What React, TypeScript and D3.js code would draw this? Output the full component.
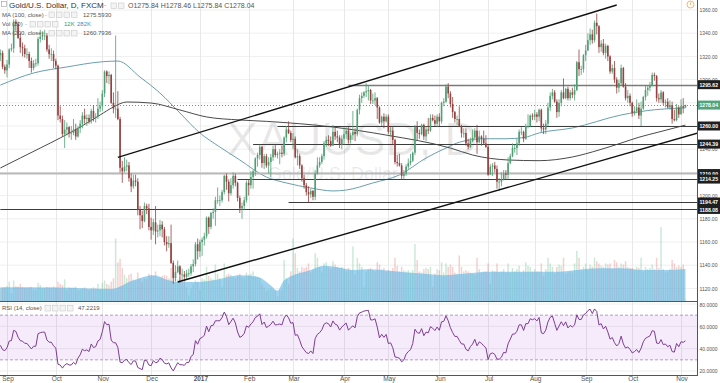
import React from 'react';
import * as d3 from 'd3';

type Bar = [number, number, number, number, number]; // open, high, low, close, volume (K)

const aug16: Bar[] = [
  [1321,1326,1316,1323,110],[1323,1325,1309,1311,115],[1311,1313,1305,1308,120],
];
const sep16: Bar[] = [
  [1308,1317,1302,1313,130],[1313,1327,1310,1326,170],[1326,1331,1324,1327,70],[1327,1352,1323,1350,180],
  [1350,1352,1342,1348,130],[1348,1350,1335,1336,125],[1336,1340,1323,1328,150],[1328,1332,1320,1327,120],
  [1327,1330,1319,1322,115],[1322,1327,1318,1322,110],[1322,1324,1310,1316,120],[1316,1319,1306,1310,125],
  [1310,1317,1308,1314,100],[1314,1318,1311,1314,100],[1314,1337,1312,1335,160],[1335,1343,1332,1337,140],
  [1337,1341,1334,1338,110],[1338,1343,1334,1338,115],[1338,1340,1324,1326,125],[1326,1330,1318,1322,120],
  [1322,1327,1316,1322,120],[1322,1325,1310,1316,130],
];
const oct16: Bar[] = [
  [1316,1318,1309,1312,120],[1312,1313,1265,1269,170],[1269,1277,1263,1266,150],[1266,1269,1251,1253,140],
  [1253,1265,1241,1257,190],[1257,1263,1252,1259,100],[1259,1260,1250,1254,120],[1254,1260,1248,1254,115],
  [1254,1266,1252,1257,120],[1257,1262,1248,1251,125],[1251,1260,1250,1258,95],[1258,1265,1254,1262,100],
  [1262,1272,1258,1269,115],[1269,1275,1262,1266,120],[1266,1270,1260,1267,105],[1267,1270,1262,1264,95],
  [1264,1275,1262,1273,110],[1273,1278,1264,1267,120],[1267,1271,1263,1268,110],[1268,1284,1266,1275,150],
  [1275,1281,1272,1277,105],
];
const nov16: Bar[] = [
  [1277,1291,1273,1288,160],[1288,1308,1285,1307,180],[1307,1308,1297,1303,150],[1303,1307,1296,1304,140],
  [1304,1305,1279,1280,170],[1280,1289,1271,1275,200],[1275,1338,1267,1275,550],[1275,1290,1265,1266,340],
  [1266,1268,1220,1224,370],[1224,1230,1211,1221,290],[1221,1233,1220,1225,230],[1225,1231,1221,1226,200],
  [1226,1229,1212,1215,230],[1215,1219,1203,1208,240],[1208,1218,1206,1213,190],[1213,1218,1208,1212,180],
  [1212,1215,1183,1188,250],[1188,1191,1171,1183,200],[1183,1187,1172,1178,170],[1178,1194,1177,1191,200],
  [1191,1193,1184,1189,190],[1189,1193,1170,1173,240],
];
const dec16: Bar[] = [
  [1173,1181,1162,1170,230],[1170,1180,1166,1177,220],[1177,1191,1158,1169,260],[1169,1175,1164,1170,200],
  [1170,1179,1165,1175,210],[1175,1178,1164,1171,220],[1171,1173,1157,1160,230],[1160,1165,1152,1158,220],
  [1158,1165,1155,1159,200],[1159,1175,1141,1142,290],[1142,1144,1124,1129,300],[1129,1140,1126,1134,220],
  [1134,1144,1133,1139,190],[1139,1140,1125,1132,210],[1132,1137,1127,1132,180],[1132,1135,1126,1130,170],
  [1130,1136,1128,1133,120],[1133,1137,1130,1133,50],[1133,1141,1131,1139,110],[1139,1145,1134,1141,150],
  [1141,1160,1139,1158,180],[1158,1163,1145,1152,170],
];
const jan17: Bar[] = [
  [1152,1162,1147,1160,100],[1160,1164,1148,1162,200],[1162,1168,1157,1165,190],[1165,1182,1163,1181,300],
  [1181,1182,1167,1173,220],[1173,1186,1171,1185,200],[1185,1189,1180,1186,190],[1186,1199,1174,1196,320],
  [1196,1207,1193,1196,240],[1196,1200,1191,1196,200],[1196,1205,1194,1203,120],[1203,1218,1201,1217,330],
  [1217,1219,1205,1212,230],[1212,1214,1195,1202,240],[1202,1215,1200,1209,230],[1209,1220,1206,1217,210],
  [1217,1219,1208,1211,200],[1211,1212,1195,1198,230],[1198,1200,1185,1189,240],[1189,1194,1180,1191,210],
  [1191,1199,1188,1196,200],[1196,1213,1194,1211,250],
];
const feb17: Bar[] = [
  [1211,1214,1200,1209,230],[1209,1221,1206,1216,240],[1216,1222,1206,1221,260],[1221,1233,1217,1232,220],
  [1232,1237,1225,1235,210],[1235,1244,1231,1242,200],[1242,1243,1224,1228,150],[1228,1236,1223,1234,120],
  [1234,1236,1224,1226,90],[1226,1233,1219,1229,100],[1229,1236,1216,1233,110],[1233,1243,1230,1240,100],
  [1240,1244,1233,1235,90],[1235,1238,1232,1236,40],[1236,1240,1227,1237,90],[1237,1243,1233,1236,100],
  [1236,1251,1234,1250,360],[1250,1260,1246,1257,200],[1257,1264,1253,1254,150],[1254,1256,1246,1248,260],
];
const mar17: Bar[] = [
  [1248,1254,1240,1249,550],[1249,1251,1232,1233,420],[1233,1240,1226,1234,290],[1234,1236,1223,1226,260],
  [1226,1227,1212,1215,300],[1215,1218,1206,1209,290],[1209,1211,1200,1203,300],[1203,1208,1194,1201,330],
  [1201,1206,1198,1204,250],[1204,1205,1196,1199,270],[1199,1222,1196,1219,420],[1219,1233,1218,1226,380],
  [1226,1233,1224,1229,300],[1229,1236,1227,1234,250],[1234,1247,1231,1245,330],[1245,1251,1242,1248,340],
  [1248,1252,1243,1247,300],[1247,1251,1242,1243,280],[1243,1261,1243,1255,350],[1255,1259,1248,1251,320],
  [1251,1256,1246,1250,300],[1250,1252,1241,1244,290],[1244,1252,1240,1249,300],
];
const apr17: Bar[] = [
  [1249,1259,1244,1253,280],[1253,1259,1249,1256,260],[1256,1259,1245,1248,290],[1248,1254,1245,1252,270],
  [1252,1273,1248,1255,480],[1255,1258,1247,1253,230],[1253,1275,1251,1274,380],[1274,1287,1270,1284,330],
  [1284,1289,1280,1286,300],[1286,1290,1284,1289,120],[1289,1297,1285,1290,260],[1290,1295,1282,1291,280],
  [1291,1292,1279,1282,290],[1282,1288,1279,1282,270],[1282,1289,1278,1284,260],[1284,1285,1266,1276,340],
  [1276,1277,1262,1263,320],[1263,1269,1260,1268,280],[1268,1271,1258,1264,290],[1264,1270,1263,1268,260],
];
const may17: Bar[] = [
  [1268,1270,1253,1255,270],[1255,1259,1251,1256,260],[1256,1259,1244,1248,290],[1248,1249,1227,1229,380],
  [1229,1235,1225,1228,310],[1228,1236,1225,1226,260],[1226,1228,1214,1217,300],[1217,1222,1214,1219,270],
  [1219,1227,1217,1225,260],[1225,1232,1223,1228,270],[1228,1236,1226,1230,250],[1230,1238,1229,1237,270],
  [1237,1261,1235,1259,500],[1259,1264,1248,1254,360],[1254,1257,1249,1253,260],[1253,1262,1252,1261,250],
  [1261,1262,1248,1251,280],[1251,1260,1247,1257,290],[1257,1267,1253,1256,280],[1256,1270,1255,1267,300],
  [1267,1270,1264,1265,120],[1265,1269,1260,1262,240],[1262,1270,1259,1268,280],
];
const jun17: Bar[] = [
  [1268,1271,1260,1264,270],[1264,1281,1262,1280,340],[1280,1284,1277,1281,250],[1281,1296,1280,1294,330],
  [1294,1297,1284,1288,300],[1288,1290,1276,1279,320],[1279,1285,1267,1272,300],[1272,1273,1263,1266,250],
  [1266,1269,1261,1266,240],[1266,1277,1259,1260,400],[1260,1261,1250,1254,300],[1254,1258,1250,1254,260],
  [1254,1258,1243,1245,270],[1245,1249,1240,1242,260],[1242,1250,1241,1247,250],[1247,1257,1246,1250,240],
  [1250,1258,1249,1256,230],[1256,1261,1236,1246,380],[1246,1256,1245,1251,280],[1251,1252,1243,1249,250],
  [1249,1256,1244,1245,260],[1245,1252,1241,1242,260],
];
const jul17: Bar[] = [
  [1242,1244,1217,1218,330],[1218,1227,1218,1225,150],[1225,1228,1217,1226,270],[1226,1229,1220,1223,260],
  [1223,1226,1206,1212,330],[1212,1215,1204,1212,250],[1212,1220,1208,1214,260],[1214,1222,1213,1219,280],
  [1219,1222,1214,1218,250],[1218,1233,1214,1228,330],[1228,1236,1227,1234,250],[1234,1245,1233,1241,290],
  [1241,1244,1237,1241,260],[1241,1249,1235,1245,280],[1245,1257,1243,1255,310],[1255,1259,1252,1255,250],
  [1255,1256,1246,1249,270],[1249,1262,1248,1260,340],[1260,1270,1258,1260,310],[1260,1270,1259,1269,300],
  [1269,1271,1265,1268,260],
];
const aug17: Bar[] = [
  [1268,1274,1265,1270,280],[1270,1272,1263,1268,260],[1268,1275,1264,1274,260],[1274,1275,1255,1258,330],
  [1258,1262,1253,1257,220],[1257,1265,1253,1262,280],[1262,1280,1260,1276,380],[1276,1289,1273,1286,330],
  [1286,1292,1283,1289,300],[1289,1291,1280,1281,240],[1281,1283,1267,1272,300],[1272,1283,1268,1280,320],
  [1280,1291,1277,1289,310],[1289,1301,1283,1284,380],[1284,1293,1283,1292,240],[1292,1294,1282,1284,250],
  [1284,1291,1282,1289,260],[1289,1293,1284,1287,250],[1287,1296,1282,1291,330],[1291,1316,1290,1315,440],
  [1315,1326,1303,1309,380],[1309,1312,1304,1309,280],[1309,1322,1306,1321,300],
];
const sep17: Bar[] = [
  [1321,1330,1316,1325,330],[1325,1340,1325,1334,270],[1334,1344,1330,1339,320],[1339,1343,1331,1334,300],
  [1334,1351,1332,1349,380],[1349,1357,1339,1346,350],[1346,1347,1323,1328,330],[1328,1334,1324,1331,310],
  [1331,1335,1321,1323,300],[1323,1331,1318,1329,330],[1329,1330,1316,1320,320],[1320,1321,1305,1307,330],
  [1307,1313,1305,1310,280],[1310,1316,1297,1300,360],[1300,1302,1288,1293,340],[1293,1300,1289,1297,300],
  [1297,1313,1295,1310,330],[1310,1311,1293,1294,320],[1294,1297,1282,1284,350],[1284,1291,1280,1286,300],
  [1286,1288,1277,1280,290],
];
const oct17: Bar[] = [
  [1280,1281,1268,1271,290],[1271,1277,1269,1273,270],[1273,1283,1271,1276,300],[1276,1280,1266,1269,290],
  [1269,1281,1260,1275,380],[1275,1286,1274,1285,250],[1285,1295,1282,1291,300],[1291,1295,1286,1293,280],
  [1293,1298,1290,1295,290],[1295,1306,1294,1304,320],[1304,1306,1299,1303,280],[1303,1304,1281,1284,380],
  [1284,1288,1280,1283,290],[1283,1291,1280,1289,650],[1289,1290,1278,1280,280],[1280,1283,1276,1281,250],
  [1281,1284,1275,1276,260],[1276,1282,1274,1278,280],[1278,1281,1262,1266,360],[1266,1274,1264,1265,330],
  [1265,1279,1264,1276,300],[1276,1277,1267,1270,310],
];
const nov17: Bar[] = [
  [1270,1283,1270,1277,300],[1277,1284,1271,1276,320],[1275.84,1278.46,1275.84,1278.04,12],
];

const monthBars: Bar[][] = [aug16, sep16, oct16, nov16, dec16, jan17, feb17, mar17, apr17, may17, jun17, jul17, aug17, sep17, oct17, nov17];
const monthLabels: string[] = ['', 'Sep', 'Oct', 'Nov', 'Dec', '2017', 'Feb', 'Mar', 'Apr', 'May', 'Jun', 'Jul', 'Aug', 'Sep', 'Oct', 'Nov'];

// moving averages: [bar index, value]
const ma100Pts: [number, number][] = [
  [0,1295.3],[15,1305.7],[30,1310.9],[45,1315.2],[53,1316],[63,1302.2],[72,1288.4],[81,1271.2],[90,1254],
  [99,1241.9],[108,1230.7],[120,1216],[129,1210.9],[140,1206.6],[150,1204],[156,1204.8],[168,1210.9],
  [180,1217.8],[192,1232.4],[201,1241],[207,1246],[218,1249],[228,1249],[236,1250],[243,1254],[258,1258.3],
  [280,1269.5],[295,1274],[309,1275.59],
];
const ma200Pts: [number, number][] = [
  [0,1223.8],[9,1232.4],[18,1241],[27,1249.7],[36,1259.1],[45,1269.5],[51,1276.4],[57,1280.7],[68,1279.8],
  [81,1273.8],[93,1267.8],[108,1265.2],[120,1264],[150,1259.1],[174,1252.2],[203,1241],[213,1235],
  [229,1230.7],[243,1230.1],[258,1233.3],[270,1239.3],[280,1245.3],[288,1250.3],[297,1254.8],[309,1260.79],
];
const volMaPts: [number, number][] = [
  [0,121],[25,118],[50,106],[60,182],[69,227],[76,182],[80,166],[88,166],[96,182],[108,227],[116,212],
  [122,136],[125,91],[128,182],[140,273],[146,309],[152,297],[160,273],[166,279],[172,273],[180,258],
  [190,242],[200,227],[210,242],[220,258],[240,258],[252,258],[260,273],[270,288],[280,288],[290,273],
  [300,273],[309,282],
];
const rsiSeed = { avgGain: 4.0, avgLoss: 5.3 };

const priceTicks = [1120, 1140, 1160, 1180, 1200, 1220, 1240, 1260, 1280, 1300, 1320, 1340, 1360];
const rsiTicks = [20, 40, 60, 80];

// drawn levels: [price, start bar index]
const levelLines: [number, number][] = [
  [1295.62, 157], [1260.0, 125], [1244.39, 114], [1214.25, 107], [1194.47, 130], [1188.08, 0],
];
const supportBand = 1219.0;
const lastPrice = 1278.04;
// trend lines: [[i1, p1], [i2, p2]]
const upperTrend: [number, number][] = [[53, 1233.0], [278, 1364.3]];
const lowerTrend: [number, number][] = [[80, 1125.5], [314.3, 1253.8]];

const FONT = '"Liberation Sans", Arial, sans-serif';
const UP = '#4f9e74';
const DOWN = '#96403f';

export default function App() {
  const bars = monthBars.flat();
  const starts: number[] = [];
  let acc = 0;
  monthBars.forEach((m) => { starts.push(acc); acc += m.length; });

  const PR = 697; // plot right edge
  const x = d3.scaleLinear().domain([0, 307]).range([0.35, 681]);
  const y = d3.scaleLinear().domain([1120, 1360]).range([288.4, 10]);
  const yv = d3.scaleLinear().domain([0, 650]).range([301, 227]);
  const yr = d3.scaleLinear().domain([20, 80]).range([371, 304]);

  // RSI (14) with Wilder smoothing
  const rsi: number[] = [];
  let ag = rsiSeed.avgGain, al = rsiSeed.avgLoss;
  rsi.push(100 - 100 / (1 + ag / al));
  for (let i = 1; i < bars.length; i++) {
    const ch = bars[i][3] - bars[i - 1][3];
    ag = (ag * 13 + Math.max(ch, 0)) / 14;
    al = (al * 13 + Math.max(-ch, 0)) / 14;
    rsi.push(100 - 100 / (1 + ag / al));
  }

  const maLine = d3.line<[number, number]>().x((d) => x(d[0])).y((d) => y(d[1])).curve(d3.curveMonotoneX);
  const volArea = d3.area<[number, number]>().x((d) => x(d[0])).y0(301).y1((d) => yv(d[1])).curve(d3.curveMonotoneX);
  const rsiLine = d3.line<number>().x((_, i) => x(i)).y((d) => yr(d));

  const axisLabel = (p: number) => p.toFixed(2);

  const boxes: { p: number; bg: string }[] = [
    { p: 1295.62, bg: '#1f1f1f' }, { p: lastPrice, bg: '#55a37a' }, { p: 1260.0, bg: '#1f1f1f' },
    { p: 1244.39, bg: '#1f1f1f' }, { p: 1219.0, bg: '#1f1f1f' }, { p: 1214.25, bg: '#1f1f1f' },
    { p: 1194.47, bg: '#1f1f1f' }, { p: 1188.08, bg: '#1f1f1f' },
  ];
  // tick labels hidden behind a label box (as the reference does)
  const visibleTicks = priceTicks.filter((p) => boxes.every((b) => Math.abs(y(b.p) - y(p)) >= 4.5));

  const icons = (x0: number, yy: number, count: number) =>
    Array.from({ length: count }, (_, k) => (
      <rect key={k} x={x0 + k * 7.5} y={yy - 5} width={5.5} height={5.5} fill="#f4f4f4" stroke="#c8c8c8" strokeWidth={0.6} />
    ));

  return (
    <svg width={720} height={383} style={{ position: 'absolute', left: 0, top: 0, fontFamily: FONT }}>
      <defs>
        <clipPath id="pricePane"><rect x={0} y={0} width={PR} height={301} /></clipPath>
        <clipPath id="rsiPane"><rect x={0} y={302} width={PR} height={73} /></clipPath>
      </defs>
      <rect x={0} y={0} width={720} height={383} fill="#fff" />

      {/* grid */}
      {priceTicks.map((p) => (
        <line key={'hg' + p} x1={0} x2={PR} y1={y(p)} y2={y(p)} stroke="#efefef" strokeWidth={1} />
      ))}
      {rsiTicks.map((r) => (
        <line key={'rg' + r} x1={0} x2={PR} y1={yr(r)} y2={yr(r)} stroke="#efefef" strokeWidth={1} />
      ))}
      {starts.slice(1).map((s, k) => (
        <line key={'vg' + k} x1={Math.round(x(s)) + 0.5} x2={Math.round(x(s)) + 0.5} y1={0} y2={375} stroke="#e8e8e8" strokeWidth={1} />
      ))}

      {/* watermark */}
      <text x={227} y={155} fontSize={46} fill="#000" fillOpacity={0.09} fontFamily={FONT}>XAUUSD, D</text>
      <text x={268} y={180} fontSize={18} fill="#000" fillOpacity={0.09} fontFamily={FONT}>Gold/U.S. Dollar</text>

      <g clipPath="url(#pricePane)">
        {/* volume */}
        {bars.map((b, i) => (
          <rect key={'v' + i} x={x(i) - 0.75} width={1.5} y={yv(b[4])} height={301 - yv(b[4])}
            fill={b[3] >= b[0] ? '#6cc08f' : '#e07a7a'} fillOpacity={0.35} />
        ))}
        <path d={volArea(volMaPts) || ''} fill="#5fb4e4" fillOpacity={0.6} />

        {/* moving averages */}
        <path d={maLine(ma100Pts) || ''} fill="none" stroke="#6a9fae" strokeWidth={1} />
        <path d={maLine(ma200Pts) || ''} fill="none" stroke="#4a4a4a" strokeWidth={1} />

        {/* levels */}
        <line x1={0} x2={PR} y1={y(supportBand)} y2={y(supportBand)} stroke="#b9b9b9" strokeWidth={2} />
        {levelLines.map(([p, s], k) => (
          <line key={'lv' + k} x1={x(s)} x2={PR} y1={Math.round(y(p)) + 0.5} y2={Math.round(y(p)) + 0.5}
            stroke={p === 1295.62 ? '#7a7a7a' : '#3c3c3c'} strokeWidth={p === 1295.62 ? 1.5 : 1} />
        ))}
        <line x1={0} x2={PR} y1={Math.round(y(lastPrice)) + 0.5} y2={Math.round(y(lastPrice)) + 0.5}
          stroke="#8a8a8a" strokeWidth={1} strokeDasharray="1,2" />

        {/* candles */}
        {bars.map((b, i) => {
          const [o, h, l, c] = b;
          const up = c >= o;
          const col = up ? UP : DOWN;
          const top = y(Math.max(o, c));
          const bh = Math.max(0.8, Math.abs(y(o) - y(c)));
          return (
            <g key={'c' + i}>
              <line x1={x(i)} x2={x(i)} y1={y(h)} y2={y(l)} stroke={col} strokeWidth={0.8} />
              <rect x={x(i) - 0.8} width={1.6} y={top} height={bh} fill={col} />
            </g>
          );
        })}

        {/* trend lines */}
        <line x1={x(upperTrend[0][0])} y1={y(upperTrend[0][1])} x2={x(upperTrend[1][0])} y2={y(upperTrend[1][1])} stroke="#111" strokeWidth={1.4} />
        <line x1={x(lowerTrend[0][0])} y1={y(lowerTrend[0][1])} x2={x(lowerTrend[1][0])} y2={y(lowerTrend[1][1])} stroke="#111" strokeWidth={1.4} />
      </g>

      {/* RSI pane */}
      <g clipPath="url(#rsiPane)">
        <rect x={0} width={PR} y={yr(70)} height={yr(30) - yr(70)} fill="#9b3fd6" fillOpacity={0.1} />
        <line x1={0} x2={PR} y1={yr(70)} y2={yr(70)} stroke="#b39ac6" strokeWidth={1} strokeDasharray="3,2" />
        <line x1={0} x2={PR} y1={yr(30)} y2={yr(30)} stroke="#b39ac6" strokeWidth={1} strokeDasharray="3,2" />
        <path d={rsiLine(rsi) || ''} fill="none" stroke="#7e3d92" strokeWidth={1} />
      </g>

      {/* pane frames */}
      <line x1={0} x2={PR} y1={301.5} y2={301.5} stroke="#555" strokeWidth={1} />
      <line x1={0} x2={PR} y1={375.5} y2={375.5} stroke="#555" strokeWidth={1} />
      <line x1={PR + 0.5} x2={PR + 0.5} y1={0} y2={376} stroke="#555" strokeWidth={1} />

      {/* right price axis */}
      {visibleTicks.map((p) => (
        <text key={'pt' + p} x={699.5} y={y(p) + 2.2} fontSize={6} fill="#555" textLength={18} lengthAdjust="spacingAndGlyphs">{axisLabel(p)}</text>
      ))}
      {boxes.map((bx, k) => (
        <g key={'bx' + k}>
          <rect x={698} y={y(bx.p) - 4.5} width={22} height={9} fill={bx.bg} />
          <text x={699.5} y={y(bx.p) + 2.2} fontSize={6} fill="#fff" fontWeight="bold" textLength={18.5} lengthAdjust="spacingAndGlyphs">{axisLabel(bx.p)}</text>
        </g>
      ))}
      {rsiTicks.map((r) => (
        <text key={'rt' + r} x={699.5} y={Math.max(yr(r) + 2.2, 307)} fontSize={6} fill="#555" textLength={18} lengthAdjust="spacingAndGlyphs">{r.toFixed(4)}</text>
      ))}

      {/* time axis */}
      {starts.map((s, k) => monthLabels[k] ? (
        <text key={'ml' + k} x={x(s) + 1} y={381} fontSize={6.5} fill="#555" textAnchor="middle"
          fontWeight={monthLabels[k] === '2017' ? 'bold' : 'normal'}>{monthLabels[k]}</text>
      ) : null)}

      {/* top-right icon */}
      <circle cx={690.5} cy={4.5} r={3.5} fill="#fff" stroke="#f0a24a" strokeWidth={0.8} />
      <line x1={690.5} x2={690.5} y1={2.5} y2={5} stroke="#f0a24a" strokeWidth={0.8} />

      {/* legend */}
      <rect x={1.5} y={1.5} width={5} height={5} fill="none" stroke="#999" strokeWidth={0.6} />
      <text x={9} y={8} fontSize={8} fill="#333">Gold/U.S. Dollar, D, FXCM</text>
      <text x={104} y={7} fontSize={7} fill="#999">-</text>
      {icons(111, 8, 2)}
      <text x={128} y={8} fontSize={7} fill="#555">O1275.84   H1278.46   L1275.84   C1278.04</text>

      <text x={2} y={16.5} fontSize={6} fill="#555">MA (100, close)</text>
      <text x={45} y={16.5} fontSize={6} fill="#999">-</text>
      {icons(49, 17, 4)}
      <text x={83} y={16.5} fontSize={6} fill="#555">1275.5930</text>

      <text x={2} y={26} fontSize={6} fill="#555">Vol (20)</text>
      <text x={25} y={26} fontSize={6} fill="#999">-</text>
      {icons(30, 26.5, 4)}
      <text x={64} y={26} fontSize={6} fill="#3c9a60">12K</text>
      <text x={77} y={26} fontSize={6} fill="#3d8fc6">282K</text>

      <text x={2} y={35} fontSize={6} fill="#555">MA (200, close)</text>
      <text x={45} y={35} fontSize={6} fill="#999">-</text>
      {icons(49, 35.5, 4)}
      <text x={83} y={35} fontSize={6} fill="#555">1260.7936</text>

      <text x={2} y={310} fontSize={6} fill="#555">RSI (14, close)</text>
      {icons(45, 310.5, 4)}
      <text x={78} y={310} fontSize={6} fill="#555">47.2219</text>
    </svg>
  );
}
